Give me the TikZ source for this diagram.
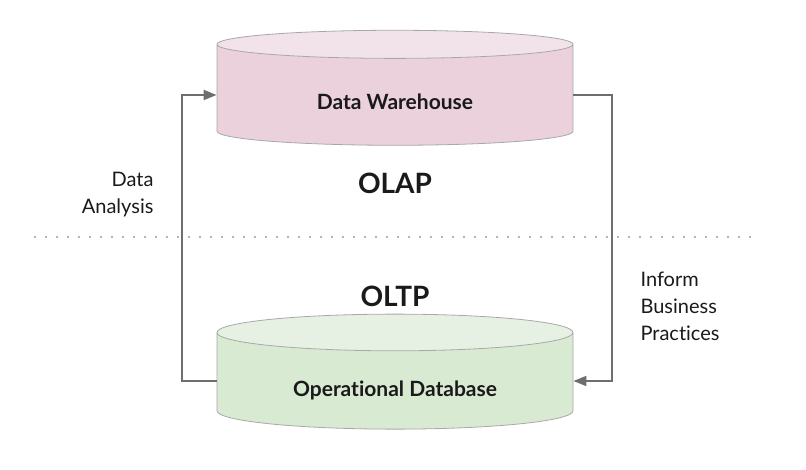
\documentclass[tikz,border=0pt]{standalone}
\usepackage{fontspec}
\setmainfont{Lato}[Ligatures=NoCommon]
\usetikzlibrary{shapes.geometric,arrows.meta}

\definecolor{whbody}{HTML}{EAD1DC}
\definecolor{whcap}{HTML}{F2E3EA}
\definecolor{dbbody}{HTML}{D9EAD3}
\definecolor{dbcap}{HTML}{E7F1E3}
\definecolor{rim}{HTML}{A8A8A8}
\definecolor{wire}{HTML}{6E6E6E}
\definecolor{dotgray}{HTML}{9A9A9A}
\definecolor{ink}{HTML}{1A1A1A}

\begin{document}
\begin{tikzpicture}[x=1pt,y=-1pt,
  store/.style={cylinder, shape border rotate=90, draw=rim, line width=0.8pt,
    cylinder uses custom fill, minimum width=356pt, minimum height=115pt,
    aspect=0.18, inner sep=0pt, text=ink, text height=30pt, text depth=0pt,
    font=\bfseries\fontsize{21}{25}\selectfont},
  flow/.style={draw=wire, line width=2pt, -{Triangle[length=13pt,width=10pt]}},
  side/.style={text=ink, font=\fontsize{20}{27}\selectfont},
  tier/.style={text=ink, font=\bfseries\fontsize{28}{32}\selectfont}]
\useasboundingbox (0,0) rectangle (806,470);
% the two stores
\node[store, cylinder body fill=whbody, cylinder end fill=whcap] (dw) at (395,95) {Data Warehouse};
\node[store, cylinder body fill=dbbody, cylinder end fill=dbcap] (odb) at (395,381) {Operational Database};
% tiers
\node[tier] (olap) at (395,183) {OLAP};
\node[tier] (oltp) at (395,296) {OLTP};
% separator
\coordinate (sepl) at (35,237);
\coordinate (sepr) at (757,237);
\draw[dotgray, line width=2.4pt, line cap=round, dash pattern=on 0pt off 11pt] (sepl) -- (sepr);
% flows
\draw[flow] (odb.west) -- ++(-35,0) |- (dw.west);
\draw[flow] (dw.east) -- ++(39,0) |- (odb.east);
\node[side, align=right, anchor=east] (ana) at (157,195) {Data\\Analysis};
\node[side, align=left, anchor=west] (inf) at (637,306) {Inform\\Business\\Practices};
\end{tikzpicture}
\end{document}
